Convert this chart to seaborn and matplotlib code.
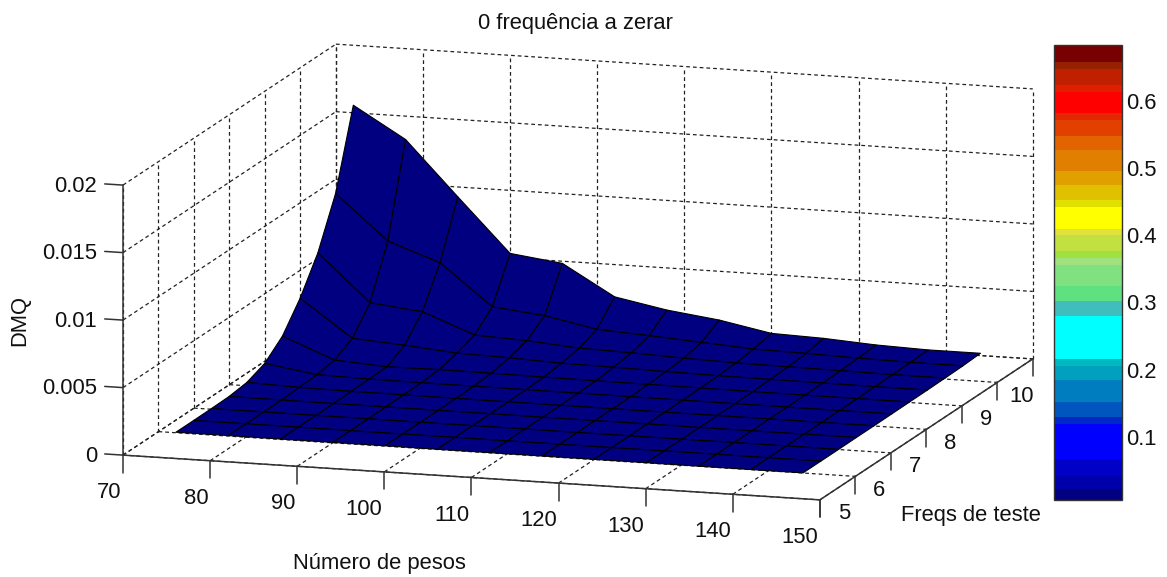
"""Surface of DMQ against number of weights and test frequencies."""

import numpy as np
import matplotlib
matplotlib.use('Agg')
import matplotlib.pyplot as plt
from matplotlib.cm import ScalarMappable
from matplotlib.colors import BoundaryNorm, ListedColormap
from mpl_toolkits.mplot3d import proj3d
import seaborn as sns

num_pesos = [72, 78, 84, 90, 96, 102, 108, 114, 120, 126, 132, 138, 144]
freqs = [6, 6.5, 7, 7.5, 8, 8.5, 9, 9.5, 10, 10.5, 11]

# one row per entry in freqs
dmq = [
    [.00004, .00004, .00003, .00003, .00003, .00002, .00002, .00002, .00002, .00002, .00001, .00001, .00001],
    [.00004, .00004, .00004, .00003, .00003, .00003, .00002, .00002, .00002, .00002, .00002, .00001, .00001],
    [.00005, .00005, .00004, .00004, .00003, .00003, .00003, .00002, .00002, .00002, .00002, .00002, .00001],
    [.00008, .00006, .00005, .00005, .00004, .00004, .00003, .00003, .00003, .00002, .00002, .00002, .00002],
    [.00025, .00012, .00008, .00007, .00006, .00005, .00004, .00004, .00003, .00003, .00003, .00002, .00002],
    [.00078, .00020, .00012, .00010, .00009, .00008, .00007, .00006, .00005, .00004, .00004, .00003, .00003],
    [.00193, .00041, .00016, .00020, .00018, .00014, .00012, .00010, .00008, .00006, .00005, .00004, .00004],
    [.00387, .00115, .00089, .00055, .00045, .00030, .00025, .00018, .00012, .00010, .00008, .00006, .00005],
    [.00636, .00291, .00250, .00102, .00085, .00055, .00045, .00030, .00020, .00016, .00012, .00008, .00007],
    [.00989, .00661, .00525, .00224, .00183, .00107, .00085, .00060, .00035, .00028, .00018, .00012, .00010],
    [.01556, .01327, .00927, .00533, .00484, .00261, .00188, .00139, .00065, .00053, .00029, .00017, .00017],
]

x_ticks = [70, 80, 90, 100, 110, 120, 130, 140, 150]
y_ticks = [5, 6, 7, 8, 9, 10, 11]
y_labels = ['5', '6', '7', '8', '9', '10']
z_ticks = [0, 0.005, 0.01, 0.015, 0.02]
z_labels = ['0', '0.005', '0.01', '0.015', '0.02']

band_edges = [.0059, .0218, .0416, .0663, .1183, .1292, .1520, .1842, .2050, .2149, .2792,
              .3015, .3238, .3554, .3658, .3767, .3995, .4094, .4411, .4515, .4748, .4960,
              .5267, .5480, .5713, .5817, .6134, .6238, .6465, .6574, .6827]
band_colors = ['#000080', '#0000aa', '#0000c8', '#0000ff', '#0028c8', '#0055be', '#007dbe',
               '#00a0be', '#00b9be', '#00ffff', '#40bebe', '#5fe182', '#80e180', '#a0e180',
               '#a0e140', '#c0e140', '#e1e140', '#ffff00', '#e1e100', '#e1c000', '#e1a000',
               '#e18000', '#e16400', '#e14000', '#e12800', '#ff0000', '#e11e00', '#c02000',
               '#962000', '#780000']
colorbar_ticks = [0.1, 0.2, 0.3, 0.4, 0.5, 0.6]

W, H = 1167, 577
FONT_SIZE = 15.8

sns.set_theme(style='white')
plt.rcParams['font.family'] = ['Liberation Sans', 'DejaVu Sans']

fig = plt.figure(figsize=(W / 100, H / 100), dpi=100)

# square 3d axes, wider than the figure's height so nothing gets clipped
side = 1028
ax = fig.add_axes([50.0 / W, -222.9 / H, side / W, side / H], projection='3d',
                  proj_type='ortho', computed_zorder=False)
ax.view_init(elev=11.9, azim=-72.7)
ax.set_box_aspect((730, 716, 276), zoom=1)
ax.set_xticks([])
ax.set_yticks([])
ax.set_zticks([])
ax.set_axis_off()

xmin, xmax = x_ticks[0], x_ticks[-1]
ymin, ymax = y_ticks[0], y_ticks[-1]
zmin, zmax = z_ticks[0], z_ticks[-1]

grid_style = dict(color='#222222', lw=0.9, ls=(0, (3, 2.4)), zorder=1)
axis_style = dict(color='#333333', lw=1.1, zorder=2)

# grid on the floor and the two back walls
for x in x_ticks:
    ax.plot([x, x], [ymin, ymax], [zmin, zmin], **grid_style)
    ax.plot([x, x], [ymax, ymax], [zmin, zmax], **grid_style)
for y in y_ticks:
    ax.plot([xmin, xmax], [y, y], [zmin, zmin], **grid_style)
    ax.plot([xmin, xmin], [y, y], [zmin, zmax], **grid_style)
for z in z_ticks:
    ax.plot([xmin, xmin], [ymin, ymax], [z, z], **grid_style)
    ax.plot([xmin, xmax], [ymax, ymax], [z, z], **grid_style)

# axis lines and ticks
ax.plot([xmin, xmax], [ymin, ymin], [zmin, zmin], **axis_style)
ax.plot([xmax, xmax], [ymin, ymax], [zmin, zmin], **axis_style)
ax.plot([xmin, xmin], [ymin, ymin], [zmin, zmax], **axis_style)

for x in x_ticks:
    ax.plot([x, x], [ymin, ymin], [zmin, -0.0013], **axis_style)
for y in y_ticks:
    ax.plot([xmax, xmax], [y, y], [zmin, -0.0013], **axis_style)
for z in z_ticks:
    ax.plot([xmin - 2.1, xmin], [ymin, ymin], [z, z], **axis_style)

cmap = ListedColormap(sns.color_palette(band_colors))
norm = BoundaryNorm(band_edges, cmap.N)

X, Y = np.meshgrid(num_pesos, freqs)
ax.plot_surface(X, Y, np.array(dmq), rstride=1, cstride=1, cmap=cmap, norm=norm,
                edgecolor='black', linewidth=0.8, shade=False, antialiased=True, zorder=3)

ax.set_xlim(xmin, xmax)
ax.set_ylim(ymin, ymax)
ax.set_zlim(zmin, zmax)


def label_at(x, y, z, text, ha):
    """Put a tick label at a 3d spot, as plain 2d text."""
    xs, ys, _ = proj3d.proj_transform(x, y, z, ax.get_proj())
    ax.text2D(xs, ys, text, transform=ax.transData, ha=ha, va='center',
              fontsize=FONT_SIZE, color='#111111')


for x in x_ticks:
    label_at(x - 0.2, ymin, -0.0028, str(x), 'right')
for y, label in zip(y_ticks, y_labels):
    label_at(xmax + 2.75, y, -0.0009, label, 'center')
for z, label in zip(z_ticks, z_labels):
    label_at(xmin - 3.0, ymin, z - 0.00022, label, 'right')

# stepped colour bar
cax = fig.add_axes([1054 / W, 1 - 500 / H, 68 / W, 455 / H])
cbar = fig.colorbar(ScalarMappable(norm=norm, cmap=cmap), cax=cax, spacing='proportional',
                    ticks=colorbar_ticks)
cbar.ax.set_yticklabels([f'{t:g}' for t in colorbar_ticks])
cbar.ax.tick_params(axis='y', direction='in', left=True, right=True, length=5, width=0.9,
                    labelsize=FONT_SIZE, labelcolor='#111111', pad=3)
cbar.ax.minorticks_off()
cbar.outline.set_edgecolor('#333333')
cbar.outline.set_linewidth(1)

fig.text(575.5 / W, 1 - 23 / H, '0 frequência a zerar', ha='center', va='center', fontsize=FONT_SIZE, color='#111111')
fig.text(20 / W, 1 - 321 / H, 'DMQ', rotation=90, ha='center', va='center', fontsize=FONT_SIZE, color='#111111')
fig.text(379 / W, 1 - 563 / H, 'Número de pesos', ha='center', va='center', fontsize=FONT_SIZE, color='#111111')
fig.text(971 / W, 1 - 516 / H, 'Freqs de teste', ha='center', va='center', fontsize=FONT_SIZE, color='#111111')

fig.savefig('out.png', dpi=100)
